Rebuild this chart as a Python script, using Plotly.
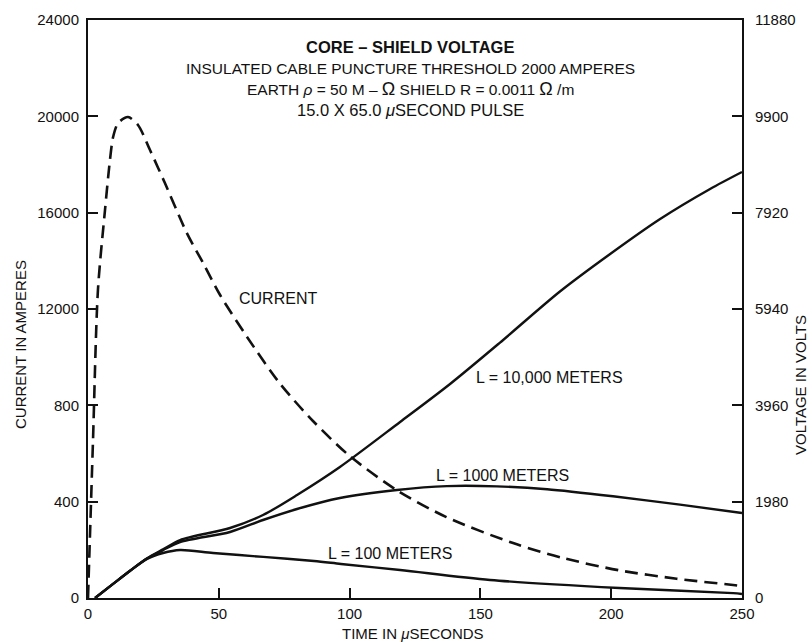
import plotly.graph_objects as go

# Time axis (microseconds) and lightning current waveform (amperes)
current_t = [0, 1.9, 3.8, 6.5, 8.4, 9.6, 11.5, 15.3, 19.1, 23.7, 29.4, 37.8, 44,
             50.5, 60.8, 73.4, 86, 100, 118, 137, 162.5, 181.6, 203, 225, 246.6, 250]
current_a = [0, 6500, 12790, 16110, 18190, 19140, 19720, 19970, 19640, 18600, 17230,
             15150, 13910, 12580, 10840, 8900, 7350, 5900, 4480, 3360, 2280, 1660,
             1150, 800, 540, 500]

# Core-shield voltage (volts) for three cable lengths
l100_t = [2.7, 9.6, 16.1, 22.6, 28.7, 35.2, 47.8, 67, 86.4, 96.7, 119.3, 153.7,
          203.2, 246.6, 250]
l100_v = [0, 290, 560, 805, 925, 986, 925, 845, 760, 700, 575, 370, 205, 100, 82]

l1000_t = [2.7, 9.6, 16.1, 22.6, 28.7, 35.2, 54.3, 66.9, 79.9, 96.3, 118.1, 137.2,
           156.3, 175.5, 200.7, 226.3, 250]
l1000_v = [0, 290, 560, 810, 985, 1151, 1357, 1603, 1829, 2055, 2220, 2300, 2295,
           2235, 2090, 1920, 1747]

l10000_t = [2.7, 9.6, 16.1, 22.6, 28.7, 35.2, 54.3, 66.9, 79.9, 96.3, 119.3, 138.4,
            157.5, 180.4, 199.6, 218.7, 237.8, 250]
l10000_v = [0, 290, 560, 815, 1000, 1192, 1439, 1706, 2117, 2693, 3618, 4399, 5250,
            6300, 7071, 7790, 8407, 8756]

# Axis ticks
x_ticks = [0, 50, 100, 150, 200, 250]
left_tickvals = [0, 4000, 8000, 12000, 16000, 20000, 24000]
left_ticktext = ["0", "400", "800", "12000", "16000", "20000", "24000"]
right_tickvals = [0, 1980, 3960, 5940, 7920, 9900, 11880]
right_ticktext = ["0", "1980", "3960", "5940", "7920", "9900", "11880"]

FONT = "Liberation Sans, Arial, Helvetica, sans-serif"
INK = "#111111"

fig = go.Figure()

fig.add_trace(go.Scatter(
    x=current_t, y=current_a, mode="lines", yaxis="y",
    line=dict(color=INK, width=2.6, dash="13px,7px", shape="spline", smoothing=0.8),
    showlegend=False, hoverinfo="skip"))

for t, v in [(l100_t, l100_v), (l1000_t, l1000_v), (l10000_t, l10000_v)]:
    fig.add_trace(go.Scatter(
        x=t, y=v, mode="lines", yaxis="y2",
        line=dict(color=INK, width=2.4, shape="spline", smoothing=0.8),
        showlegend=False, hoverinfo="skip"))

tick_font = dict(family=FONT, size=15, color=INK)

fig.update_layout(
    width=812, height=642,
    margin=dict(l=88, r=70, t=20, b=44),
    paper_bgcolor="white", plot_bgcolor="white",
    font=dict(family=FONT, size=13, color=INK),
    xaxis=dict(
        range=[0, 250], tickvals=x_ticks, ticks="inside", ticklen=10, tickwidth=1.5,
        tickcolor=INK, showline=True, linecolor=INK, linewidth=2, mirror=True,
        showgrid=False, zeroline=False, tickfont=tick_font, ticklabelstandoff=1,
    ),
    yaxis=dict(
        range=[0, 24000], tickvals=left_tickvals, ticktext=left_ticktext,
        ticks="inside", ticklen=10, tickwidth=1.5, tickcolor=INK,
        showline=True, linecolor=INK, linewidth=2, showgrid=False, zeroline=False,
        tickfont=tick_font, ticklabelstandoff=4,
    ),
    yaxis2=dict(
        range=[0, 11880], tickvals=right_tickvals, ticktext=right_ticktext,
        overlaying="y", side="right",
        ticks="inside", ticklen=10, tickwidth=1.5, tickcolor=INK,
        showline=True, linecolor=INK, linewidth=2, showgrid=False, zeroline=False,
        tickfont=tick_font, ticklabelstandoff=8,
    ),
)

# Axis titles
title_font = dict(family=FONT, size=15, color=INK)
fig.add_annotation(text="TIME IN <i>μ</i>SECONDS", xref="paper", yref="paper",
                   x=(413 - 88) / 654, y=(598 - 633) / 578, showarrow=False,
                   xanchor="center", yanchor="middle", font=title_font)
fig.add_annotation(text="CURRENT IN AMPERES", xref="paper", yref="paper",
                   x=(20 - 88) / 654, y=(598 - 345) / 578, showarrow=False,
                   textangle=-90, xanchor="center", yanchor="middle", font=title_font)
fig.add_annotation(text="VOLTAGE IN VOLTS", xref="paper", yref="paper",
                   x=(800 - 88) / 654, y=(598 - 385) / 578, showarrow=False,
                   textangle=-90, xanchor="center", yanchor="middle", font=title_font)

# Chart heading inside the plotting area
heading = [
    ("<b>CORE – SHIELD VOLTAGE</b>", 47, 16.5),
    ("INSULATED CABLE PUNCTURE THRESHOLD 2000 AMPERES", 68, 15.5),
    ("EARTH <i>ρ</i> = 50 M – <span style='font-size:18px'>Ω</span> SHIELD R = 0.0011 "
     "<span style='font-size:18px'>Ω</span> /m", 89, 15.5),
    ("15.0 X 65.0 <i>μ</i>SECOND PULSE", 110, 16.5),
]
for text, ypx, size in heading:
    fig.add_annotation(
        text=text, xref="paper", yref="paper",
        x=(410 - 88) / 654, y=(598 - ypx) / 578,
        showarrow=False, xanchor="center", yanchor="middle",
        font=dict(family=FONT, size=size, color=INK))

# Curve labels, placed in data coordinates
labels = [
    ("CURRENT", 72.5, 12450, "y"),
    ("L = 10,000 METERS", 176.5, 4530, "y2"),
    ("L = 1000 METERS", 158.5, 2520, "y2"),
    ("L = 100 METERS", 115.5, 925, "y2"),
]
for text, xv, yv, yr in labels:
    fig.add_annotation(
        text=text, x=xv, y=yv, xref="x", yref=yr, showarrow=False,
        xanchor="center", yanchor="middle",
        font=dict(family=FONT, size=16, color=INK))

fig.write_html("out.html")
